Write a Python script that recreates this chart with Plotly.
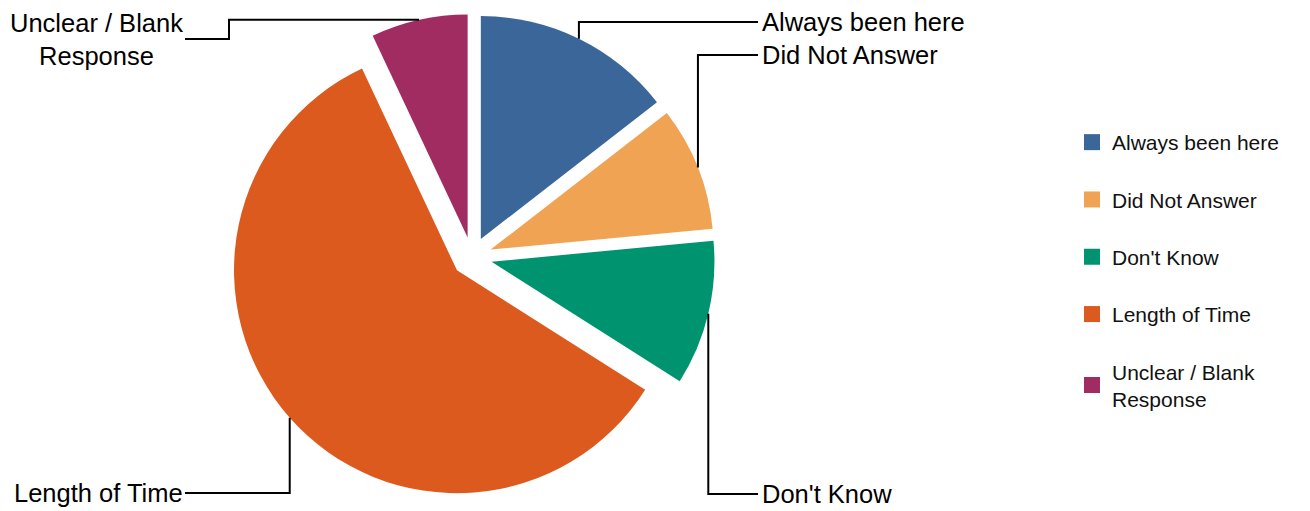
import math
import plotly.graph_objects as go

# ---- data ----
categories = ["Always been here", "Did Not Answer", "Don't Know", "Length of Time", "Unclear / Blank Response"]
values = [29, 18, 21, 118, 14]
label_texts = ["Always been here", "Did Not Answer", "Don't Know", "Length of Time", "Unclear / Blank<br>Response"]
legend_texts = ["Always been here", "Did Not Answer", "Don't Know", "Length of Time", "Unclear / Blank<br>Response"]
colors = ["#3A6699", "#F0A352", "#00936F", "#DD5A1F", "#A12C62"]

# ---- layout constants (pixels) ----
W, H = 1310, 511
PULL = 0.09
DOM_X = (229, 715)   # pie domain in px
DOM_Y = (14, 500)    # pie domain in px (top, bottom)
FONT = "Liberation Sans, Arial, sans-serif"

# label placement: (side, label_x, label_y)
label_place = [
    ("right", 760, 22),
    ("right", 760, 55),
    ("right", 760, 494),
    ("left", 185, 493),
    ("left", 185, 39),
]

fig = go.Figure()

fig.add_trace(go.Pie(
    labels=categories, values=values, sort=False, direction="clockwise", rotation=0,
    pull=[PULL] * len(values), marker=dict(colors=colors, line=dict(width=0)),
    textinfo="none", textposition="inside", showlegend=False, hoverinfo="label+value+percent",
    domain=dict(x=[DOM_X[0] / W, DOM_X[1] / W], y=[1 - DOM_Y[1] / H, 1 - DOM_Y[0] / H]),
))

# legend via marker-only traces
for name, txt, col in zip(categories, legend_texts, colors):
    fig.add_trace(go.Scatter(
        x=[None], y=[None], mode="markers", name=txt, legendgroup=name,
        marker=dict(symbol="square", size=16, color=col), hoverinfo="skip",
    ))

# pie geometry (from domain + pull)
cx = (DOM_X[0] + DOM_X[1]) / 2
cy = (DOM_Y[0] + DOM_Y[1]) / 2
R_out = min(DOM_X[1] - DOM_X[0], DOM_Y[1] - DOM_Y[0]) / 2
total = sum(values)
cum = 0
shapes = []
annotations = []
for i, v in enumerate(values):
    mid = (cum + v / 2) / total * 2 * math.pi
    cum += v
    ax = cx + R_out * math.sin(mid)
    ay = cy - R_out * math.cos(mid)
    side, lx, ly = label_place[i]
    if side == "right":
        end_x = lx - 2
        path = f"M{ax},{ay} L{ax},{ly} L{end_x},{ly}"
    else:
        end_x = lx
        if ly > ay and abs(ly - ay) < 40 and ay < 60:
            # horizontal first, then elbow down to label
            elbow_x = lx + 44
            path = f"M{ax},{ay} L{elbow_x},{ay} L{elbow_x},{ly} L{end_x},{ly}"
        else:
            path = f"M{ax},{ay} L{ax},{ly} L{end_x},{ly}"
    shapes.append(dict(type="path", path=path, xref="x", yref="y",
                       line=dict(color="black", width=2), layer="above"))
    annotations.append(dict(
        x=lx, y=ly, xref="x", yref="y", text=label_texts[i], showarrow=False,
        xanchor="left" if side == "right" else "right", yanchor="middle",
        align="center", font=dict(family=FONT, size=25.5, color="black"),
    ))

fig.update_layout(
    width=W, height=H,
    margin=dict(l=0, r=0, t=0, b=0),
    paper_bgcolor="white", plot_bgcolor="white",
    xaxis=dict(range=[0, W], visible=False, fixedrange=True),
    yaxis=dict(range=[H, 0], visible=False, fixedrange=True),
    shapes=shapes, annotations=annotations,
    showlegend=True,
    legend=dict(x=1072 / W, y=1 - 122 / H, xanchor="left", yanchor="top",
                font=dict(family=FONT, size=21, color="#111111"),
                tracegroupgap=27, itemclick=False, itemdoubleclick=False,
                bgcolor="rgba(0,0,0,0)"),
)

fig.write_html("out.html", config={"displayModeBar": False},
               post_script="document.body.style.margin='0';")
